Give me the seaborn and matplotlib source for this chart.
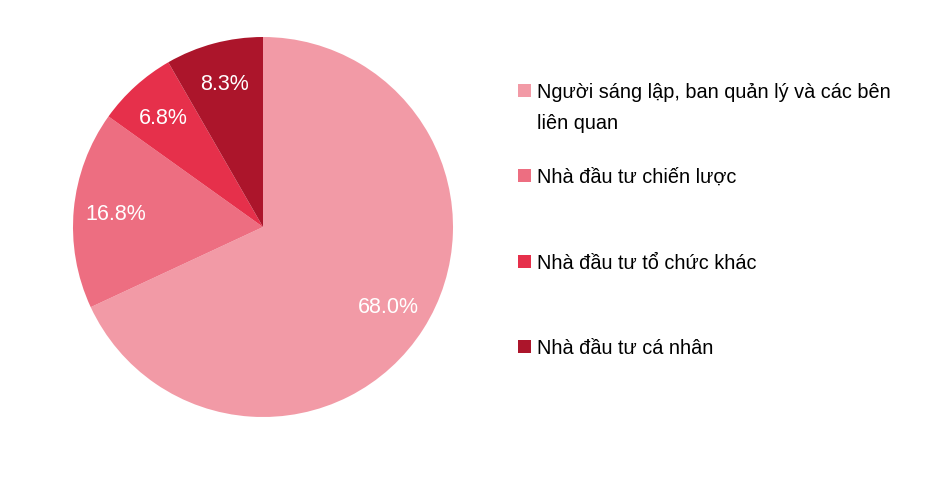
import matplotlib
matplotlib.use("Agg")
import numpy as np
import matplotlib.pyplot as plt
import seaborn as sns
from matplotlib.patches import Rectangle

# Data
labels = ['Người sáng lập, ban quản lý và các bên\nliên quan',
          'Nhà đầu tư chiến lược',
          'Nhà đầu tư tổ chức khác',
          'Nhà đầu tư cá nhân']
values = [68.0, 16.8, 6.8, 8.3]
colors = sns.color_palette(['#F29AA6', '#ED6E81', '#E6304B', '#AC152B'])

sns.set_style('white')
plt.rcParams['font.family'] = ['Liberation Sans Narrow', 'Liberation Sans', 'DejaVu Sans']

fig = plt.figure(figsize=(9.25, 4.89), dpi=100)
ax = fig.add_axes([73 / 925, 1 - 418 / 489, 380 / 925, 380 / 489])

wedges, texts = ax.pie(values, colors=colors, startangle=90, counterclock=False,
                       wedgeprops=dict(linewidth=0))
# percentage labels show the source values as printed
for w, v in zip(wedges, values):
    ang = np.deg2rad((w.theta1 + w.theta2) / 2)
    ax.text(0.78 * np.cos(ang), 0.78 * np.sin(ang), f'{v:.1f}%', color='white',
            fontsize=15.5, ha='center', va='center')
ax.set_xlim(-1, 1)
ax.set_ylim(-1, 1)
ax.set_aspect('equal')
ax.axis('off')

# Legend drawn by hand so the swatch sits at the first line of text
rows_y = [91, 176, 262, 347]
for lab, col, y in zip(labels, colors, rows_y):
    fig.add_artist(Rectangle((518 / 925, 1 - (y + 7) / 489), 13 / 925, 13 / 489,
                             transform=fig.transFigure, color=col, lw=0))
    fig.text(537 / 925, 1 - (y - 8) / 489, lab, fontsize=14.3, va='top', ha='left',
             color='black', linespacing=1.8)

fig.savefig('out.png', dpi=100)
